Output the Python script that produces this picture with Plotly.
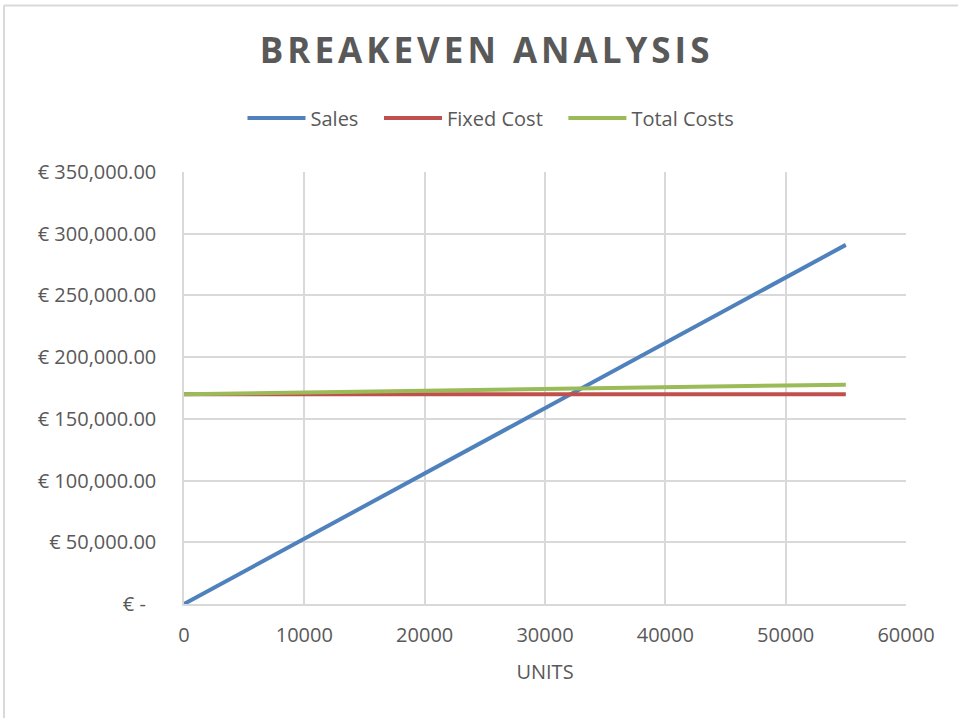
import plotly.graph_objects as go

units = [0, 10000, 20000, 30000, 40000, 50000, 55000]
sales = [0, 52900, 105800, 158700, 211600, 264500, 290950]
fixed_cost = [170000, 170000, 170000, 170000, 170000, 170000, 170000]
total_costs = [170000, 171400, 172800, 174200, 175600, 177000, 177700]
series_names = ["Sales", "Fixed Cost", "Total Costs"]

y_tickvals = [0, 50000, 100000, 150000, 200000, 250000, 300000, 350000]
y_ticktext = ["€ -  ", "€ 50,000.00", "€ 100,000.00", "€ 150,000.00",
              "€ 200,000.00", "€ 250,000.00", "€ 300,000.00", "€ 350,000.00"]
x_tickvals = [0, 10000, 20000, 30000, 40000, 50000, 60000]
x_ticktext = ["0", "10000", "20000", "30000", "40000", "50000", "60000"]

FONT = "Open Sans"
GREY = "#595959"
GRID = "#d9d9d9"
PAD = "\u00a0\u00a0\u00a0"

W, H = 958, 718
L, R, T, B = 184, 52, 172, 114
PW, PH = W - L - R, H - T - B

fig = go.Figure()
fig.add_trace(go.Scatter(x=units, y=sales, mode="lines", name=series_names[0] + PAD,
                         line=dict(color="#4f81bd", width=4)))
fig.add_trace(go.Scatter(x=units, y=fixed_cost, mode="lines", name=series_names[1] + PAD,
                         line=dict(color="#c0504d", width=4)))
fig.add_trace(go.Scatter(x=units, y=total_costs, mode="lines", name=series_names[2],
                         line=dict(color="#9bbb59", width=4)))

fig.update_layout(
    width=W, height=H,
    margin=dict(l=L, r=R, t=T, b=B, autoexpand=False),
    paper_bgcolor="white", plot_bgcolor="white",
    font=dict(family=FONT, color=GREY, size=20),
    title=dict(text='<b><span style="letter-spacing:4px">BREAKEVEN ANALYSIS</span></b>',
               x=0.508, xanchor="center", y=1 - 51 / H, yanchor="middle",
               font=dict(family=FONT, size=35, color=GREY)),
    legend=dict(orientation="h", x=(491 - L) / PW, xanchor="center",
                y=1 + (T - 118) / PH, yanchor="middle",
                font=dict(family=FONT, size=20, color=GREY),
                itemwidth=58, traceorder="normal"),
    xaxis=dict(range=[0, 60000], tickvals=x_tickvals, ticktext=x_ticktext,
               showgrid=True, gridcolor=GRID, gridwidth=1.5, zeroline=False,
               showline=True, linecolor=GRID, linewidth=1.5,
               ticks="", ticklabelstandoff=12,
               title=dict(text="UNITS", font=dict(family=FONT, size=20, color=GREY), standoff=18),
               tickfont=dict(family=FONT, size=20, color=GREY)),
    yaxis=dict(range=[0, 350000], tickvals=y_tickvals, ticktext=y_ticktext,
               showgrid=True, gridcolor=GRID, gridwidth=1.5, zeroline=False,
               showline=True, linecolor=GRID, linewidth=1.5,
               ticks="", ticklabelstandoff=22,
               tickfont=dict(family=FONT, size=20, color=GREY)),
    shapes=[
        dict(type="line", xref="paper", yref="paper", x0=(4 - L) / PW, x1=(W - L) / PW,
             y0=(H - B - 5.5) / PH, y1=(H - B - 5.5) / PH, line=dict(color=GRID, width=2)),
        dict(type="line", xref="paper", yref="paper", x0=(4 - L) / PW, x1=(4 - L) / PW,
             y0=-B / PH, y1=(H - B - 5.5) / PH, line=dict(color=GRID, width=2)),
    ],
)

fig.write_html("out.html", config={"displayModeBar": False},
               post_script="document.body.style.margin='0';document.body.style.padding='0';")
